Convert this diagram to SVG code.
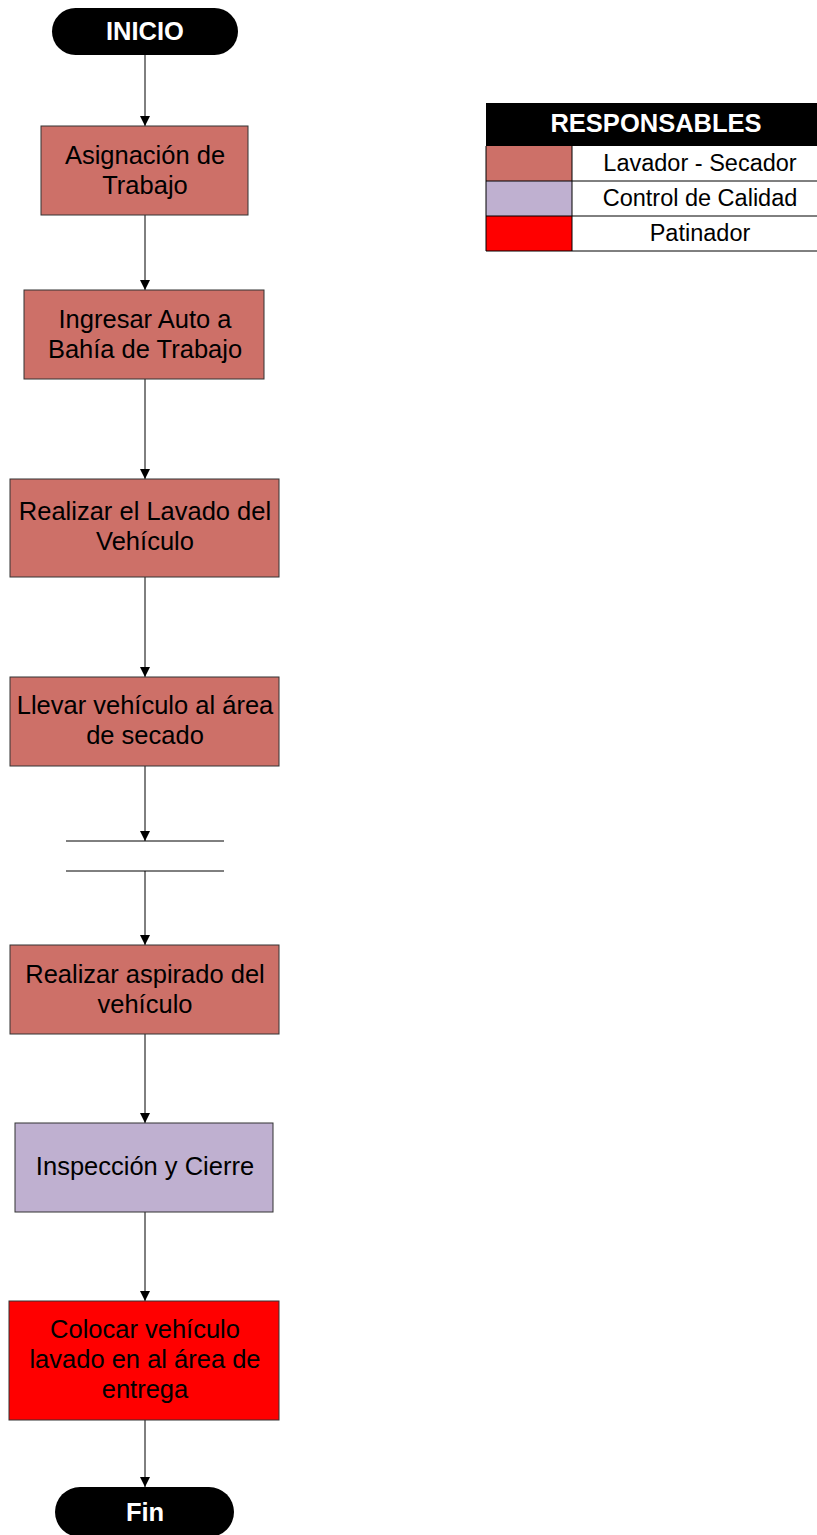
<svg xmlns="http://www.w3.org/2000/svg" width="817" height="1535" viewBox="0 0 817 1535">
  <style>
    .task { stroke: #333; stroke-width: 1; }
    .lav { fill: #CD7068; }
    .cal { fill: #BFB0D0; }
    .pat { fill: #FF0000; }
    .lbl { font-family: "Liberation Sans", Arial, sans-serif; font-size: 25.5px; fill: #000; text-anchor: middle; }
    .leg { font-family: "Liberation Sans", Arial, sans-serif; font-size: 23.5px; fill: #000; text-anchor: middle; }
    .term { fill: #000; }
    .tlbl { font-family: "Liberation Sans", Arial, sans-serif; font-size: 25.5px; font-weight: bold; fill: #fff; text-anchor: middle; }
    .edge { stroke: #000; stroke-width: 1; fill: none; marker-end: url(#arrow); }
    .grid { stroke: #000; stroke-width: 1; }
  </style>
  <defs>
    <marker id="arrow" viewBox="0 0 10 10" refX="10" refY="5" markerWidth="10" markerHeight="10" markerUnits="userSpaceOnUse" orient="auto">
      <path d="M0,0 L10,5 L0,10 Z" fill="#000"/>
    </marker>
  </defs>

  <!-- connectors -->
  <g id="connectors">
    <line class="edge" x1="145" y1="55" x2="145" y2="126"/>
    <line class="edge" x1="145" y1="215" x2="145" y2="290"/>
    <line class="edge" x1="145" y1="379" x2="145" y2="479"/>
    <line class="edge" x1="145" y1="577" x2="145" y2="677"/>
    <line class="edge" x1="145" y1="766" x2="145" y2="841"/>
    <line class="edge" x1="145" y1="871" x2="145" y2="945"/>
    <line class="edge" x1="145" y1="1034" x2="145" y2="1123"/>
    <line class="edge" x1="145" y1="1212" x2="145" y2="1301"/>
    <line class="edge" x1="145" y1="1420" x2="145" y2="1487"/>
  </g>

  <g id="inicio">
    <rect class="term" x="52" y="8" width="186" height="47" rx="23.5"/>
    <text class="tlbl" x="145" y="40">INICIO</text>
  </g>

  <g id="asignacion">
    <rect class="task lav" x="41" y="126" width="207" height="89"/>
    <text class="lbl" x="145" y="164">Asignación de</text>
    <text class="lbl" x="145" y="194">Trabajo</text>
  </g>

  <g id="ingresar">
    <rect class="task lav" x="24" y="290" width="240" height="89"/>
    <text class="lbl" x="145" y="328">Ingresar Auto a</text>
    <text class="lbl" x="145" y="358">Bahía de Trabajo</text>
  </g>

  <g id="lavado">
    <rect class="task lav" x="10" y="479" width="269" height="98"/>
    <text class="lbl" x="145" y="520">Realizar el Lavado del</text>
    <text class="lbl" x="145" y="550">Vehículo</text>
  </g>

  <g id="secado">
    <rect class="task lav" x="10" y="677" width="269" height="89"/>
    <text class="lbl" x="145" y="714">Llevar vehículo al área</text>
    <text class="lbl" x="145" y="744">de secado</text>
  </g>

  <g id="almacen">
    <line class="grid" x1="66" y1="841" x2="224" y2="841"/>
    <line class="grid" x1="66" y1="871" x2="224" y2="871"/>
  </g>

  <g id="aspirado">
    <rect class="task lav" x="10" y="945" width="269" height="89"/>
    <text class="lbl" x="145" y="983">Realizar aspirado del</text>
    <text class="lbl" x="145" y="1013">vehículo</text>
  </g>

  <g id="inspeccion">
    <rect class="task cal" x="15" y="1123" width="258" height="89"/>
    <text class="lbl" x="145" y="1175">Inspección y Cierre</text>
  </g>

  <g id="entrega">
    <rect class="task pat" x="9" y="1301" width="270" height="119"/>
    <text class="lbl" x="145" y="1338">Colocar vehículo</text>
    <text class="lbl" x="145" y="1368">lavado en al área de</text>
    <text class="lbl" x="145" y="1398">entrega</text>
  </g>

  <g id="fin">
    <rect class="term" x="55" y="1487" width="179" height="50" rx="25"/>
    <text class="tlbl" x="145" y="1521">Fin</text>
  </g>

  <!-- legend table -->
  <g id="responsables">
    <rect x="486" y="103" width="331" height="43" fill="#000"/>
    <text class="tlbl" x="656" y="132">RESPONSABLES</text>
    <rect class="lav" x="486" y="146" width="86" height="35"/>
    <rect class="cal" x="486" y="181" width="86" height="35"/>
    <rect class="pat" x="486" y="216" width="86" height="35"/>
    <line class="grid" x1="486" y1="146" x2="486" y2="251"/>
    <line class="grid" x1="572" y1="146" x2="572" y2="251"/>
    <line class="grid" x1="486" y1="181" x2="817" y2="181"/>
    <line class="grid" x1="486" y1="216" x2="817" y2="216"/>
    <line class="grid" x1="486" y1="251" x2="817" y2="251"/>
    <text class="leg" x="700" y="171">Lavador - Secador</text>
    <text class="leg" x="700" y="206">Control de Calidad</text>
    <text class="leg" x="700" y="241">Patinador</text>
  </g>
</svg>
